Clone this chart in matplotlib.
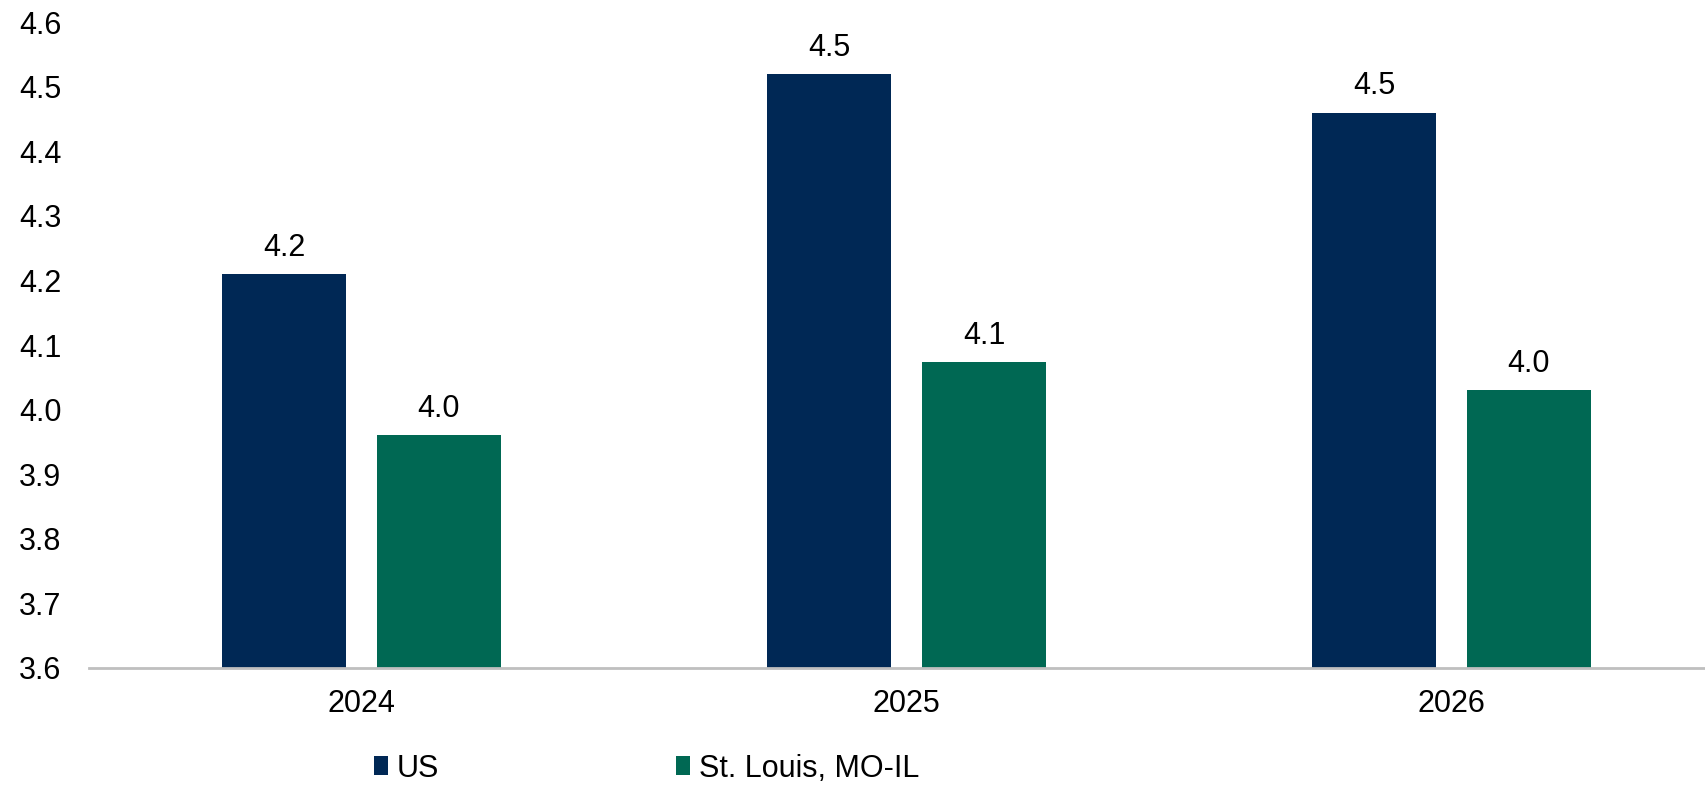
import matplotlib
matplotlib.use("Agg")
import matplotlib.pyplot as plt
import numpy as np

plt.rcParams["font.family"] = ["Liberation Sans", "DejaVu Sans"]

years = ["2024", "2025", "2026"]
us = [4.21, 4.52, 4.46]
stl = [3.96, 4.074, 4.031]
series_names = ["US", "St. Louis, MO-IL"]

NAVY = "#002855"
GREEN = "#006853"

fig = plt.figure(figsize=(17.06, 7.91), dpi=100)
# axis runs a bit past the right edge of the picture
ax = fig.add_axes([0.0522, 0.1555, 0.9584, 0.8165])

x = np.arange(len(years))
w = 0.2275
off = 0.142
b1 = ax.bar(x - off, [v - 3.6 for v in us], w, bottom=3.6, color=NAVY, label=series_names[0])
b2 = ax.bar(x + off, [v - 3.6 for v in stl], w, bottom=3.6, color=GREEN, label=series_names[1])

for bars, vals in ((b1, us), (b2, stl)):
    ax.bar_label(bars, labels=[f"{v:.1f}" for v in vals], padding=8, fontsize=22)

ax.set_xlim(-0.5, 2.5)
ax.set_ylim(3.6, 4.6)
yt = np.arange(3.6, 4.61, 0.1)
ax.set_yticks(yt)
ax.set_yticklabels([f"{t:.1f}" for t in yt])
ax.set_xticks(x)
ax.set_xticklabels(years)
ax.tick_params(axis="both", length=0, labelsize=22)
ax.tick_params(axis="y", pad=20)
ax.tick_params(axis="x", pad=15)

for s in ["top", "right", "left"]:
    ax.spines[s].set_visible(False)
ax.spines["bottom"].set_color("#BFBFBF")
ax.spines["bottom"].set_linewidth(2)

fig.legend(loc="lower left", bbox_to_anchor=(0.212, -0.006), ncol=2, frameon=False,
           fontsize=22, handlelength=0.45, handleheight=0.6, handletextpad=0.3,
           columnspacing=7.75, borderaxespad=0)

fig.savefig("out.png", dpi=100)
